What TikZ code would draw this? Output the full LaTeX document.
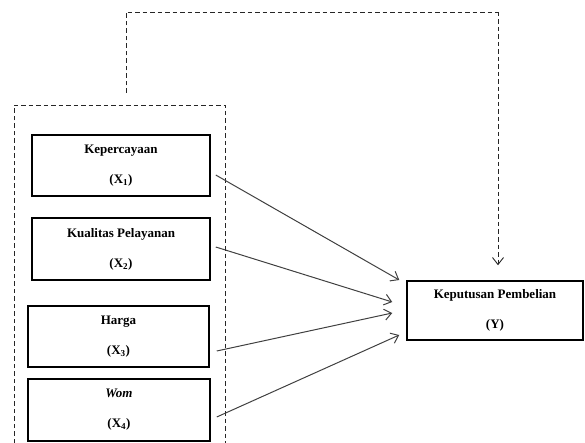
\documentclass[tikz,border=0pt]{standalone}
\usepackage{fontspec}
\setmainfont{Liberation Serif}
\usetikzlibrary{arrows.meta}

\begin{document}
\begin{tikzpicture}[x=1pt,y=-1pt,%%
  boxStyle/.style={draw,line width=1.5pt,align=center,font=\fontsize{13}{15}\selectfont\bfseries},%%
  arrowStyle/.style={-{Straight Barb[length=7pt,width=11pt]},line width=1pt,draw=black!75},%%
  dashStyle/.style={line width=0.9pt,draw=black!85,dash pattern=on 4.5pt off 3pt}%%
]
%%
%%
\pgfmathsetmacro{\gap}{15}
%%
\useasboundingbox (0,0) rectangle (585,443);
%%
%% The independent variables.
\node[boxStyle,minimum width=178pt,minimum height=61pt] (kepercayaan) at (121,165.5)
  {Kepercayaan\\[\gap pt](X\textsubscript{1})};
\node[boxStyle,minimum width=178pt,minimum height=62pt] (kualitas) at (121,249)
  {Kualitas Pelayanan\\[\gap pt](X\textsubscript{2})};
\node[boxStyle,minimum width=181pt,minimum height=61pt] (harga) at (118.5,336.5)
  {Harga\\[\gap pt](X\textsubscript{3})};
\node[boxStyle,minimum width=182pt,minimum height=62pt] (wom) at (119,410)
  {\textit{Wom}\\[\gap pt](X\textsubscript{4})};
%%
%% The dependent variable.
\node[boxStyle,minimum width=176pt,minimum height=59pt] (keputusan) at (495,310.5)
  {Keputusan Pembelian\\[\gap pt](Y)};
%%
%% The dashed group round the independent variables.
\coordinate (groupTopLeft) at (14,105);
\coordinate (groupTopRight) at (225,105);
\draw[dashStyle] (14,443) -- (groupTopLeft) -- (groupTopRight) -- (225,443);
%%
%% The simultaneous effect.
\coordinate (jointStart) at (126,93);
\coordinate (jointCorner) at (498,12);
\draw[dashStyle] (jointStart) |- (jointCorner);
\draw[dashStyle,-{Straight Barb[length=7pt,width=11pt]}] (jointCorner)
  -- ([xshift=3pt,yshift=15pt]keputusan.north);
%%
%% The partial effects.
\draw[arrowStyle] ([xshift=5pt,yshift=-9.5pt]kepercayaan.east)
  -- ([xshift=-7pt,yshift=30.5pt]keputusan.west);
\draw[arrowStyle] ([xshift=5pt,yshift=2pt]kualitas.east)
  -- ([xshift=-14pt,yshift=8.5pt]keputusan.west);
\draw[arrowStyle] ([xshift=7pt,yshift=-14.5pt]harga.east)
  -- ([xshift=-14pt,yshift=-2.5pt]keputusan.west);
\draw[arrowStyle] ([xshift=6pt,yshift=-7pt]wom.east)
  -- ([xshift=-7pt,yshift=-24.5pt]keputusan.west);
\end{tikzpicture}
\end{document}
